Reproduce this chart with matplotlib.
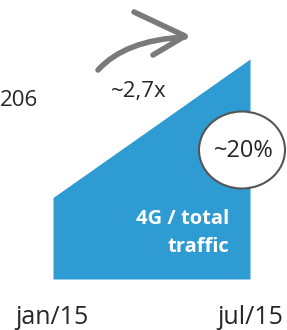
import matplotlib.pyplot as plt
from matplotlib.patches import Ellipse, PathPatch
from matplotlib.path import Path

# data
months = ["jan/15", "jul/15"]
share = [1.0, 2.7]          # relative 4G share of traffic
growth_label = "~2,7x"
end_label = "~20%"
left_label = "206"

W, H = 287, 330
fig = plt.figure(figsize=(W / 100, H / 100), dpi=100)
plt.rcParams['font.family'] = ['Open Sans', 'DejaVu Sans']

def fx(px):
    return px / W

def fy(py):
    return 1 - py / H

# main axes: the blue area
ax = fig.add_axes([fx(53), fy(279), fx(250) - fx(53), fy(59) - fy(279)])
xs = list(range(len(months)))
ax.fill_between(xs, 0, share, color='#2e9bd3', linewidth=0)
ax.set_xlim(0, 1)
ax.set_ylim(0, max(share))
ax.axis('off')

fig.text(fx(229), fy(219), "4G / total", color='white', fontsize=14.5, fontweight='bold',
         ha='right', va='center')
fig.text(fx(229), fy(247), "traffic", color='white', fontsize=14.5, fontweight='bold',
         ha='right', va='center')

# month labels
txt = '#262626'
fig.text(fx(52), fy(318), months[0], fontsize=18, ha='center', va='center', color=txt)
fig.text(fx(250), fy(318), months[1], fontsize=18, ha='center', va='center', color=txt)

# other labels
fig.text(fx(0), fy(101), left_label, fontsize=16, ha='left', va='center', color=txt)
fig.text(fx(139), fy(91), growth_label, fontsize=16, ha='center', va='center', color=txt)

# ellipse with percentage
ell = Ellipse((fx(242), fy(150)), fx(86), 77 / H, transform=fig.transFigure,
              facecolor='white', edgecolor='#555555', linewidth=1.5)
fig.add_artist(ell)
fig.text(fx(244), fy(151), end_label, fontsize=17, ha='center', va='center', color=txt)

# brush-like curved arrow
grey = '#7a7a7a'
shaft = Path([(fx(98), fy(70)), (fx(125), fy(40)), (fx(185), fy(37))],
             [Path.MOVETO, Path.CURVE3, Path.CURVE3])
fig.add_artist(PathPatch(shaft, transform=fig.transFigure, fill=False,
                         edgecolor=grey, linewidth=4, capstyle='round'))
head = Path([(fx(134), fy(12)), (fx(185), fy(36)), (fx(153), fy(55))],
            [Path.MOVETO, Path.LINETO, Path.LINETO])
fig.add_artist(PathPatch(head, transform=fig.transFigure, fill=False,
                         edgecolor=grey, linewidth=4, capstyle='round', joinstyle='round'))

fig.savefig("out.png", dpi=100)
